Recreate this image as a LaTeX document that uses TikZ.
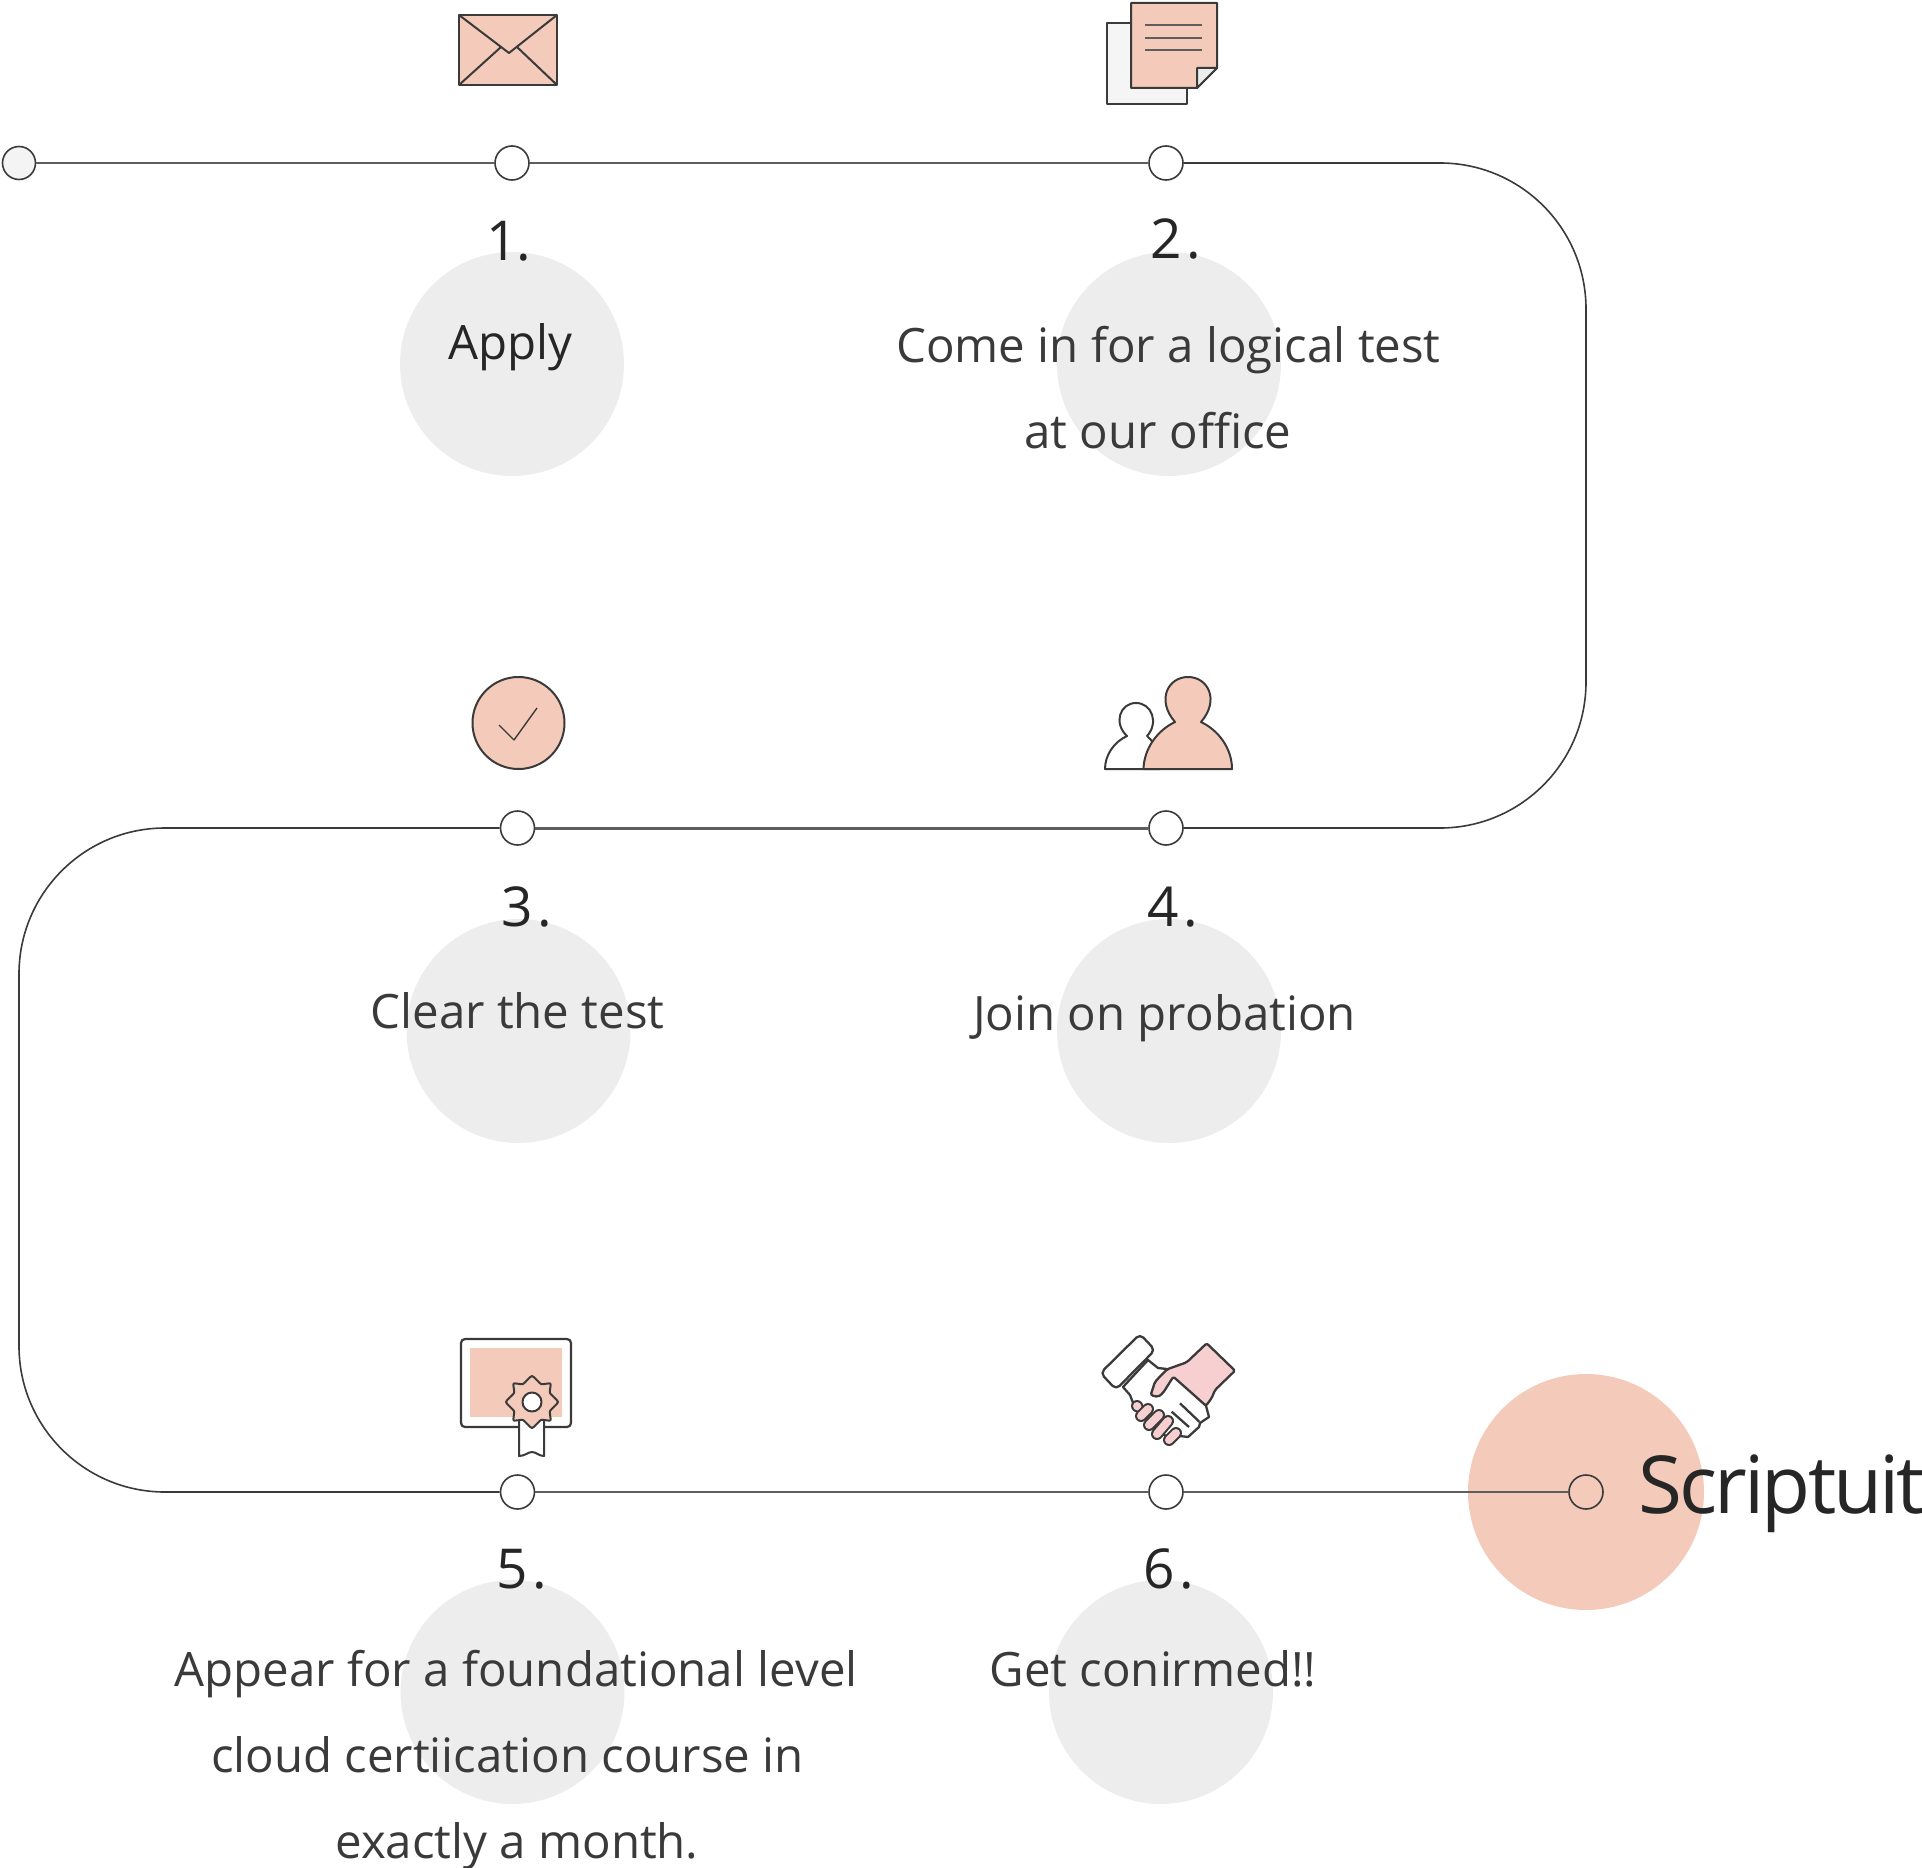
\documentclass[tikz,border=0pt]{standalone}
\usepackage{fontspec}
\setmainfont{Open Sans}
\definecolor{peach}{HTML}{F4CBBB}
\definecolor{disc}{HTML}{EDEDED}
\definecolor{pinkhand}{HTML}{F8CFD0}
\definecolor{ink}{HTML}{3A3A3A}
\definecolor{inkdark}{HTML}{262626}
\definecolor{linec}{HTML}{5E5E5E}
\tikzset{
  track/.style={draw=linec,line width=1.15pt},
  turnline/.style={draw=ink,line width=.8pt,rounded corners=73pt},
  dot/.style={circle,draw=ink,fill=white,line width=.8pt,minimum size=17pt,inner sep=0pt},
  greydisc/.style={circle,fill=disc,minimum size=112pt,inner sep=0pt},
  num/.style={anchor=base,inner sep=0pt,text=inkdark,font=\fontsize{27.5}{27.5}\selectfont},
  body/.style={anchor=base,inner sep=0pt,text=ink,font=\fontsize{23.7}{23.7}\selectfont},
  icon/.style={draw=ink,line width=1pt,line join=round},
}
\begin{document}
\begin{tikzpicture}[x=.5pt,y=-.5pt]
\useasboundingbox (0,0) rectangle (1922,1868);
% background discs
\node[greydisc] (d1) at (512,364) {};
\node[greydisc] (d2) at (1169,364) {};
\node[greydisc] (d3) at (518.5,1031) {};
\node[greydisc] (d4) at (1169,1031) {};
\node[greydisc] (d5) at (512.5,1692) {};
\node[greydisc] (d6) at (1161,1692) {};
\node[circle,fill=peach,minimum size=118pt,inner sep=0pt] (dend) at (1586,1492) {};
% stations
\coordinate (tr) at (1586,163);
\coordinate (br) at (1586,828);
\coordinate (tl) at (19,828);
\coordinate (bl) at (19,1492);
\node[dot,fill=disc!60!white,minimum size=16.5pt] (n0) at (19,163) {};
\node[dot] (n1) at (512,163) {};
\node[dot] (n2) at (1166,163) {};
\node[dot] (n4) at (1166,828) {};
\node[dot] (n3) at (517.5,828) {};
\node[dot] (n5) at (517.5,1492) {};
\node[dot] (n6) at (1166,1492) {};
\node[dot,fill=none] (nend) at (1586,1492) {};
% track
\draw[track] (n0) -- (n1);
\draw[track] (n1) -- (n2);
\draw[turnline] (n2) -- (tr) -- (br) -- (n4);
\draw[track,line width=1.5pt,draw=linec] (n4) -- (n3);
\draw[turnline] (n3) -- (tl) -- (bl) -- (n5);
\draw[track] (n5) -- (n6);
\draw[track] (n6) -- (nend);
% labels
\node[num] (t1) at (509,260.5) {1\kern-.5pt.};
\node[num] (t2) at (1176,258.5) {2\kern2.5pt.};
\node[num] (t3) at (527,926.5) {3\kern2.5pt.};
\node[num] (t4) at (1173,926.5) {4\kern2.5pt.};
\node[num] (t5) at (522,1588.5) {5\kern2.5pt.};
\node[num] (t6) at (1169,1588.5) {6\kern2.5pt.};
\node[body,text=inkdark] (a1) at (510,359.5) {Apply};
\node[body] (a2) at (1168.5,362) {Come in for a logical test};
\node[body] (a2b) at (1158,448) {at our office};
\node[body] (a3) at (517.5,1028) {Clear the test};
\node[body] (a4) at (1164.5,1030.5) {Join on probation};
\node[body] (a5) at (516,1686) {Appear for a foundational level};
\node[body] (a5b) at (507.5,1772) {cloud certiication course in};
\node[body] (a5c) at (517,1858) {exactly a month.};
\node[body] (a6) at (1153,1686) {Get conirmed!!};
\node[anchor=base west,inner sep=0pt,text=inkdark,font=\fontsize{40}{40}\selectfont\addfontfeatures{LetterSpace=-3.6}] (brand) at (1638,1513) {Scriptuit};
% envelope
\draw[icon,fill=peach] (459,15) rectangle (557,85);
\draw[icon] (459,15) -- (509,53) -- (557,15);
\draw[icon] (459,85) -- (501,47);
\draw[icon] (557,85) -- (517,47);
% documents
\draw[icon,fill=white!96!black] (1107,23) rectangle (1187,104);
\draw[icon,fill=peach] (1131,3) -- (1217,3) -- (1217,68) -- (1197,88) -- (1131,88) -- cycle;
\draw[icon,fill=white!93!black] (1217,68) -- (1197,68) -- (1197,88) -- cycle;
\foreach \yy in {25,38,50} \draw[linec,line width=1.2pt] (1145,\yy) -- (1202,\yy);
% check
\draw[icon,fill=peach] (518.5,723) circle[radius=46];
\draw[icon,line width=.7pt] (499,725) -- (514,740) -- (537,708);
% people
\draw[icon,fill=white] (1105,769)
  .. controls (1105,755) and (1114,742) .. (1127,736)
  .. controls (1113,723) and (1120,703) .. (1136,703)
  .. controls (1152,703) and (1159,723) .. (1147,736)
  .. controls (1152,740) and (1156,745) .. (1160,769) -- cycle;
\draw[icon,fill=peach] (1143.5,769)
  .. controls (1144,748) and (1158,730) .. (1175,722)
  .. controls (1156,700) and (1168,677) .. (1188,677)
  .. controls (1208,677) and (1220,700) .. (1201,722)
  .. controls (1218,730) and (1232,748) .. (1232,769) -- cycle;
% certificate
\draw[icon,line width=1.1pt,rounded corners=2pt] (461,1339) rectangle (571,1427);
\fill[peach] (470,1348) rectangle (562,1417);
\draw[icon,fill=white] (519,1420) -- (519,1456) .. controls (525,1456) and (528,1452) .. (532,1452)
  .. controls (536,1452) and (539,1456) .. (544,1456) -- (544,1420);
\draw[icon,fill=peach] plot[smooth cycle,tension=.35] coordinates {
  (558,1402) (550,1411) (550.4,1420.4) (541,1420) (532,1428) (523,1420) (513.6,1420.4) (514,1411)
  (506,1402) (514,1393) (513.6,1383.6) (523,1384) (532,1376) (541,1384) (550.4,1383.6) (550,1393)};
\draw[icon,fill=white] (532,1402) circle[radius=9.5];
% handshake
\draw[icon,line width=1.15pt,fill=white] (1148,1360) -- (1158,1368) -- (1167,1369) -- (1206,1405.7) -- (1209,1417) -- (1200,1423) -- (1199,1427)
  -- (1188,1437) -- (1180,1436) -- (1172,1442) -- (1135,1408) -- (1130,1395) -- (1123,1387) -- cycle;
\draw[icon,line width=1.15pt,fill=white,rounded corners=2.5pt] (1140,1334) -- (1155,1350) -- (1116,1389.5) -- (1100.5,1373) -- cycle;
\draw[icon,line width=1.15pt,fill=pinkhand,rounded corners=1pt] (1206.7,1343.3) -- (1235,1370.7) -- (1215,1390) -- (1211.7,1398) -- (1206,1405.7)
  -- (1173.3,1376.7) -- (1163,1393) -- (1158,1397) -- (1150.7,1395) -- (1155,1381.7) -- (1167,1369.3) -- (1186.7,1362.3) -- cycle;
\draw[icon,line width=1.15pt] (1180,1403.3) -- (1199.3,1421.7);
\draw[icon,line width=1.15pt] (1171.7,1411.7) -- (1189,1427);
\foreach \ax/\ay/\bx/\by in {1137/1406/1137.5/1406.5, 1148/1409/1141/1416, 1159/1415/1149/1425, 1168/1421/1157/1434, 1176/1433/1169/1440}{
  \draw[ink,line width=6pt,line cap=round] (\ax,\ay) -- (\bx,\by);
  \draw[pinkhand,line width=4pt,line cap=round] (\ax,\ay) -- (\bx,\by);
}
\end{tikzpicture}
\end{document}
